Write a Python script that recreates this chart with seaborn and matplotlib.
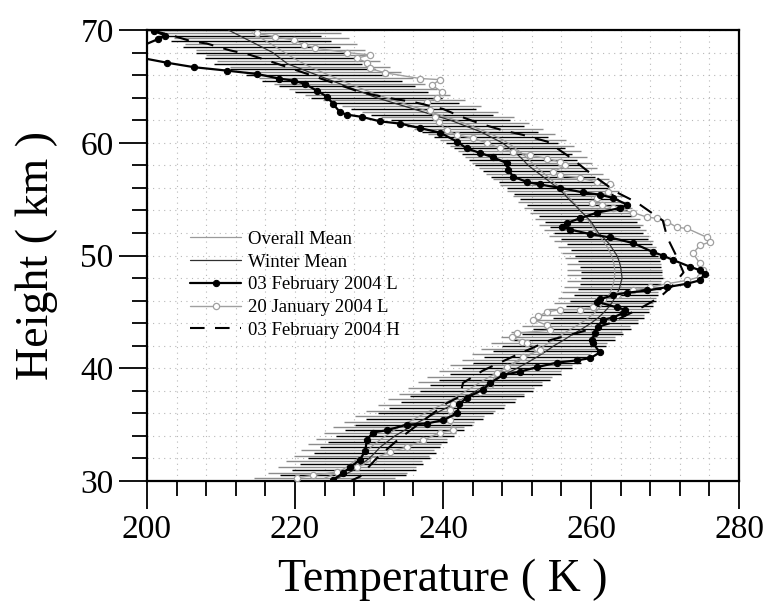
import numpy as np
import pandas as pd
import matplotlib
matplotlib.use('Agg')
import matplotlib.pyplot as plt
import seaborn as sns
from matplotlib.ticker import MultipleLocator

# heights (km) of the mean profiles
h_winter = np.arange(30.0, 70.01, 0.5)
h_overall = np.arange(30.25, 69.76, 0.5)

winter_T = [225.0, 226.5, 228.0, 229.0, 230.0, 230.8, 231.5, 232.5, 233.5, 234.8,
            236.0, 237.5, 239.0, 240.5, 242.0, 243.2, 244.5, 245.8, 247.0, 248.5,
            250.0, 251.4, 252.7, 253.9, 255.0, 256.3, 257.5, 258.8, 260.0, 261.0,
            261.8, 262.5, 263.0, 263.4, 263.8, 264.0, 264.2, 264.1, 264.0, 263.8,
            263.5, 263.0, 262.5, 261.8, 261.0, 260.5, 260.0, 259.3, 258.5, 257.8,
            257.0, 256.3, 255.5, 254.5, 253.5, 252.5, 251.5, 250.8, 250.0, 249.0,
            248.0, 246.5, 245.0, 243.0, 241.0, 238.5, 236.0, 233.5, 231.0, 229.0,
            227.0, 225.0, 223.0, 221.0, 219.0, 218.0, 217.0, 215.5, 214.0, 212.5,
            211.0]
winter_err = [8.5, 8.5, 8.4, 8.3, 8.2, 8.2, 8.1, 8.0, 8.0, 8.0,
              7.9, 7.9, 7.8, 7.8, 7.7, 7.7, 7.6, 7.6, 7.5, 7.5,
              7.4, 7.3, 7.2, 7.1, 7.0, 6.9, 6.8, 6.6, 6.4, 6.2,
              6.0, 5.9, 5.8, 5.7, 5.6, 5.5, 5.5, 5.5, 5.5, 5.5,
              5.6, 5.7, 5.8, 5.9, 6.0, 6.1, 6.2, 6.3, 6.4, 6.5,
              6.6, 6.7, 6.8, 6.9, 7.0, 7.1, 7.2, 7.3, 7.4, 7.5,
              7.6, 7.7, 7.8, 7.9, 8.0, 8.2, 8.4, 8.6, 8.8, 9.0,
              9.2, 9.4, 9.6, 9.8, 10.0, 10.2, 10.4, 10.6, 10.8, 11.0,
              11.0]

overall_T = [224.0, 225.8, 227.0, 228.0, 229.0, 229.8, 230.7, 231.7, 232.8, 234.0,
             235.4, 236.8, 238.3, 239.8, 241.2, 242.5, 243.8, 245.0, 246.3, 247.7,
             249.2, 250.6, 251.9, 253.1, 254.3, 255.5, 256.7, 258.0, 259.2, 260.2,
             261.0, 261.7, 262.2, 262.6, 262.9, 263.1, 263.2, 263.2, 263.1, 262.9,
             262.6, 262.2, 261.7, 261.1, 260.5, 260.0, 259.5, 258.9, 258.3, 257.6,
             256.9, 256.2, 255.4, 254.6, 253.7, 252.8, 252.0, 251.2, 250.3, 249.3,
             248.1, 246.6, 244.8, 242.8, 240.6, 238.2, 235.8, 233.4, 231.2, 229.2,
             227.3, 225.5, 223.7, 222.0, 220.5, 219.2, 218.0, 216.8, 215.5, 214.2]
overall_err = [9.5, 9.4, 9.3, 9.2, 9.1, 9.0, 9.0, 8.9, 8.9, 8.8,
               8.8, 8.7, 8.7, 8.6, 8.6, 8.5, 8.5, 8.4, 8.4, 8.3,
               8.2, 8.1, 8.0, 7.9, 7.8, 7.7, 7.5, 7.3, 7.1, 6.9,
               6.8, 6.7, 6.6, 6.5, 6.5, 6.4, 6.4, 6.4, 6.4, 6.4,
               6.5, 6.6, 6.7, 6.8, 6.9, 7.0, 7.1, 7.2, 7.3, 7.4,
               7.5, 7.6, 7.7, 7.8, 7.9, 8.0, 8.1, 8.2, 8.3, 8.4,
               8.5, 8.6, 8.7, 8.8, 9.0, 9.2, 9.4, 9.6, 9.8, 10.0,
               10.2, 10.4, 10.6, 10.8, 11.0, 11.2, 11.4, 11.6, 11.8, 12.0]

# 03 February 2004 L (lidar profile, top to bottom)
febL_T = [201.0, 202.5, 201.5, 199.0, 199.5, 202.7, 206.4, 210.8, 214.9, 217.8,
          219.9, 221.4, 223.0, 224.3, 225.2, 226.1, 227.0, 229.0, 231.5, 234.2,
          236.9, 239.6, 241.9, 243.2, 245.0, 246.8, 248.6, 248.8, 249.5, 251.4,
          253.1, 255.8, 258.9, 261.2, 263.0, 264.9, 263.9, 260.8, 258.5, 256.8,
          256.1, 257.2, 259.9, 262.6, 265.7, 268.4, 269.7, 271.1, 273.4, 274.7,
          275.4, 274.7, 273.0, 270.3, 267.6, 264.9, 263.0, 261.2, 260.8, 263.5,
          264.6, 264.3, 263.0, 261.6, 260.9, 260.5, 260.1, 260.3, 261.2, 259.9,
          258.1, 255.4, 252.7, 250.4, 248.1, 246.4, 245.4, 243.2, 242.2, 241.9,
          240.0, 237.8, 235.1, 232.4, 230.5, 229.7, 229.5, 228.8, 227.4, 226.5,
          225.1]
febL_H = [69.9, 69.5, 69.2, 68.5, 67.5, 67.1, 66.7, 66.4, 66.1, 65.7,
          65.5, 65.2, 64.6, 64.1, 63.4, 62.7, 62.5, 62.3, 61.9, 61.7,
          61.3, 60.9, 60.1, 59.5, 59.1, 58.7, 58.2, 57.6, 57.0, 56.5,
          56.3, 56.0, 55.6, 55.4, 55.1, 54.5, 54.2, 53.8, 53.3, 52.9,
          52.5, 52.3, 51.9, 51.6, 51.1, 50.3, 50.0, 49.6, 49.0, 48.7,
          48.4, 47.8, 47.5, 47.2, 46.9, 46.7, 46.5, 46.1, 45.9, 45.4,
          45.2, 44.9, 44.5, 44.3, 43.7, 43.1, 42.5, 42.2, 41.4, 40.9,
          40.7, 40.5, 40.1, 39.7, 39.4, 38.7, 38.1, 37.4, 36.8, 36.0,
          35.4, 35.1, 35.0, 34.5, 34.3, 33.6, 32.7, 31.9, 31.2, 30.7,
          30.1]

# 20 January 2004 L
janL_T = [214.9, 217.3, 219.9, 221.2, 222.7, 227.0, 230.1, 228.4, 229.7, 230.1,
          232.2, 236.9, 239.6, 238.5, 239.9, 239.2, 237.8, 238.2, 238.9, 239.4,
          240.5, 241.9, 244.0, 245.9, 247.7, 249.5, 251.8, 254.1, 255.8, 256.5,
          254.9, 255.8, 258.5, 260.8, 262.6, 262.3, 260.8, 260.1, 261.5, 263.0,
          265.7, 267.6, 268.9, 270.3, 271.6, 273.0, 275.7, 276.1, 274.7, 273.8,
          274.7, 275.1, 274.7, 273.0, 270.3, 268.0, 265.7, 263.5, 261.6, 260.3,
          258.5, 255.8, 254.1, 252.8, 252.2, 254.1, 254.5, 250.0, 249.3, 250.7,
          251.4, 252.7, 253.1, 250.8, 248.6, 247.3, 246.4, 245.0, 243.2, 241.4,
          240.9, 240.9, 241.4, 239.6, 237.3, 235.1, 232.8, 230.5, 228.4, 225.7,
          222.4, 220.3]
janL_H = [69.7, 69.4, 69.1, 68.7, 68.4, 68.0, 67.8, 67.5, 67.1, 66.6,
          66.2, 65.7, 65.6, 65.1, 64.5, 64.0, 63.6, 62.9, 62.3, 61.8,
          61.1, 60.7, 60.4, 60.0, 59.5, 59.2, 58.9, 58.6, 58.3, 58.0,
          57.4, 57.1, 56.9, 56.5, 56.3, 55.6, 55.1, 54.7, 54.5, 54.2,
          53.8, 53.4, 53.3, 53.0, 52.5, 52.4, 51.6, 51.2, 50.9, 50.2,
          49.3, 48.7, 48.1, 47.8, 47.5, 47.2, 46.9, 46.5, 46.1, 45.4,
          45.2, 45.2, 45.0, 44.6, 44.3, 43.8, 43.4, 43.1, 42.8, 42.3,
          42.2, 41.8, 41.6, 41.0, 40.1, 39.6, 38.5, 37.9, 37.4, 36.8,
          36.3, 35.4, 34.5, 34.3, 33.6, 33.0, 32.6, 31.9, 31.2, 30.8,
          30.5, 30.3]

# 03 February 2004 H
febH_T = [200.5, 203.5, 206.0, 208.1, 211.2, 213.9, 217.2, 219.9, 223.9, 228.8,
          232.4, 236.1, 240.0, 242.5, 245.0, 248.1, 250.8, 254.1, 257.2, 260.3,
          263.5, 266.2, 269.7, 270.3, 271.5, 272.5, 271.0, 269.3, 266.6, 262.6,
          258.5, 254.5, 250.0, 245.4, 242.7, 242.3, 240.5, 237.0, 233.8, 231.0,
          228.8, 227.5]
febH_H = [70.0, 69.5, 69.0, 68.8, 68.2, 67.8, 67.1, 66.5, 65.6, 64.5,
          64.0, 63.6, 63.0, 62.3, 61.7, 61.1, 60.7, 60.1, 58.7, 57.1,
          55.6, 54.7, 53.1, 51.6, 50.0, 48.5, 47.3, 46.3, 45.3, 44.0,
          43.2, 42.5, 41.2, 39.8, 38.7, 37.5, 36.9, 35.2, 33.6, 32.0,
          30.4, 30.0]

labels = ['Overall Mean', 'Winter Mean', '03 February 2004 L',
          '20 January 2004 L', '03 February 2004 H']

sns.set_style('ticks')
plt.rcParams['font.family'] = ['Liberation Serif', 'DejaVu Serif']
plt.rcParams['text.color'] = 'black'
plt.rcParams['axes.labelcolor'] = 'black'
plt.rcParams['xtick.color'] = 'black'
plt.rcParams['ytick.color'] = 'black'

fig = plt.figure(figsize=(7.64, 6.03), dpi=100)
ax = fig.add_axes([0.1924, 0.2023, 0.7749, 0.7479])

winter = pd.DataFrame({'T': winter_T, 'H': h_winter, 'err': winter_err})
overall = pd.DataFrame({'T': overall_T, 'H': h_overall, 'err': overall_err})

# error bars as dense horizontal lines
ax.hlines(overall['H'], overall['T'] - overall['err'], overall['T'] + overall['err'],
          colors='#8c8c8c', lw=1.0, zorder=2)
ax.hlines(winter['H'], winter['T'] - winter['err'], winter['T'] + winter['err'],
          colors='black', lw=1.0, zorder=2)

sns.lineplot(data=overall, x='T', y='H', sort=False, estimator=None, ax=ax,
             color='#9a9a9a', lw=0.9, label=labels[0], zorder=3)
sns.lineplot(data=winter, x='T', y='H', sort=False, estimator=None, ax=ax,
             color='#303030', lw=0.9, label=labels[1], zorder=3)
sns.lineplot(x=febL_T, y=febL_H, sort=False, estimator=None, ax=ax,
             color='black', lw=1.6, marker='o', ms=4.5, mec='black', mfc='black',
             label=labels[2], zorder=5)
sns.lineplot(x=janL_T, y=janL_H, sort=False, estimator=None, ax=ax,
             color='#a0a0a0', lw=1.0, marker='o', ms=4.5, mec='#a0a0a0', mfc='white',
             mew=0.9, label=labels[3], zorder=4)
sns.lineplot(x=febH_T, y=febH_H, sort=False, estimator=None, ax=ax,
             color='black', lw=1.5, label=labels[4], zorder=4)
ax.lines[-1].set_dashes((7, 5))

ax.set_xlim(200, 280)
ax.set_ylim(30, 70)
ax.xaxis.set_major_locator(MultipleLocator(20))
ax.xaxis.set_minor_locator(MultipleLocator(4))
ax.yaxis.set_major_locator(MultipleLocator(10))
ax.yaxis.set_minor_locator(MultipleLocator(2))
ax.grid(True, which='both', ls=(0, (1, 4)), color='#b8b8b8', lw=0.8)
ax.set_axisbelow(True)

ax.tick_params(which='major', direction='out', length=20, width=1.3, labelsize=24,
               pad=4, colors='black')
ax.tick_params(which='minor', direction='out', length=11, width=1.3)
for s in ax.spines.values():
    s.set_linewidth(1.6)
    s.set_color('black')

ax.set_xlabel('Temperature ( K )', fontsize=33, labelpad=10, color='black')
ax.set_ylabel('Height ( km )', fontsize=33, labelpad=16, color='black')

h, l = ax.get_legend_handles_labels()
ax.legend(h, l, loc='upper left', bbox_to_anchor=(0.073, 0.555), frameon=False,
          fontsize=13.5, handlelength=2.7, handletextpad=0.4, labelspacing=0.3,
          borderpad=0, borderaxespad=0)

fig.savefig('out.png', dpi=100)
